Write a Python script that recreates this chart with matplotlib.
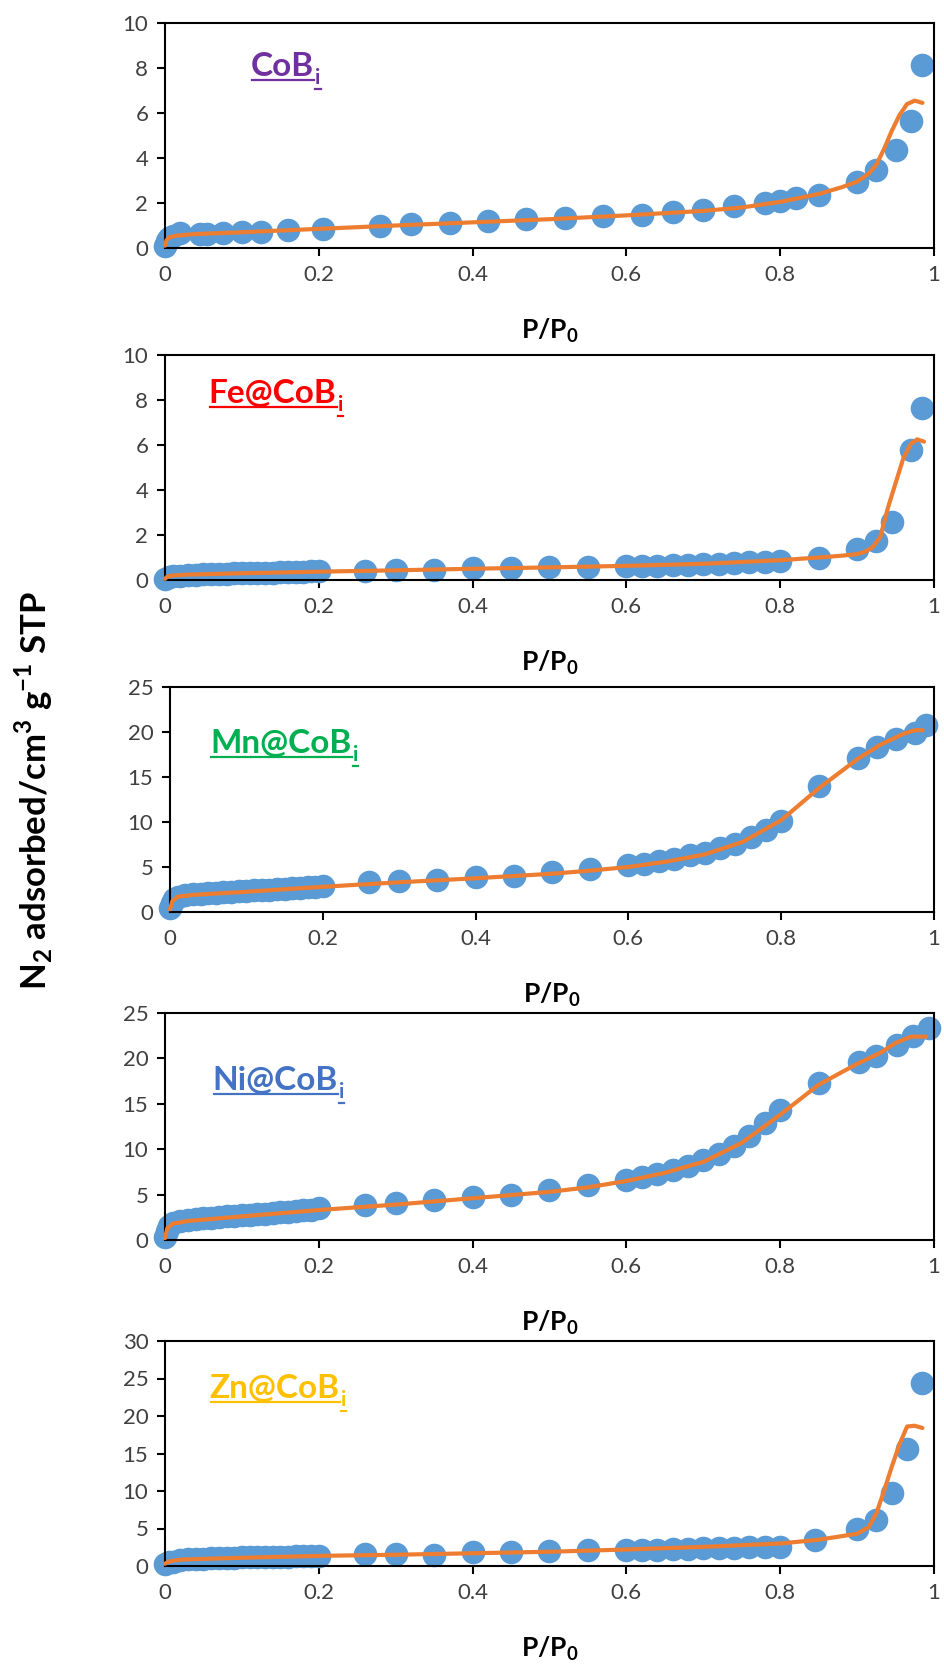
import matplotlib
matplotlib.use("Agg")
import matplotlib.pyplot as plt
from matplotlib.lines import Line2D

plt.rcParams["font.family"] = ["Lato", "DejaVu Sans"]
plt.rcParams["mathtext.fontset"] = "custom"
plt.rcParams["mathtext.rm"] = "Lato"
plt.rcParams["mathtext.bf"] = "Lato:bold"

# --- CoBi ---
cob_x = [0.0, 0.002, 0.005, 0.01, 0.02, 0.045, 0.055, 0.075, 0.1, 0.125, 0.16, 0.205, 0.28, 0.32,
         0.37, 0.42, 0.47, 0.52, 0.57, 0.62, 0.66, 0.70, 0.74, 0.78, 0.80, 0.82, 0.85, 0.90,
         0.925, 0.95, 0.97, 0.985]
cob_y = [0.1, 0.3, 0.45, 0.55, 0.65, 0.62, 0.62, 0.65, 0.72, 0.72, 0.78, 0.84, 0.98, 1.06,
         1.12, 1.2, 1.27, 1.34, 1.42, 1.48, 1.6, 1.67, 1.85, 2.0, 2.1, 2.2, 2.37, 2.95,
         3.45, 4.35, 5.65, 8.15]
cob_fit_x = [0.0, 0.002, 0.006, 0.015, 0.04, 0.1, 0.2, 0.3, 0.4, 0.5, 0.6, 0.7, 0.75, 0.8, 0.85,
             0.88, 0.9, 0.915, 0.925, 0.935, 0.945, 0.955, 0.965, 0.975, 0.985]
cob_fit_y = [0.1, 0.35, 0.48, 0.55, 0.62, 0.7, 0.85, 1.0, 1.14, 1.28, 1.45, 1.65, 1.8, 2.05, 2.4,
             2.7, 2.95, 3.3, 3.7, 4.4, 5.2, 5.9, 6.4, 6.55, 6.45]

# --- Fe@CoBi ---
fe_x = [0.0, 0.005, 0.01, 0.02, 0.03, 0.04, 0.05, 0.06, 0.07, 0.08, 0.09, 0.1, 0.11, 0.12, 0.13,
        0.14, 0.15, 0.16, 0.17, 0.18, 0.19, 0.2, 0.26, 0.3, 0.35, 0.4, 0.45, 0.5, 0.55, 0.6, 0.62,
        0.64, 0.66, 0.68, 0.7, 0.72, 0.74, 0.76, 0.78, 0.8, 0.85, 0.9, 0.925, 0.945, 0.97, 0.985]
fe_y = [0.05, 0.12, 0.17, 0.2, 0.22, 0.24, 0.25, 0.26, 0.27, 0.28, 0.29, 0.3, 0.31, 0.32, 0.32,
        0.33, 0.34, 0.35, 0.36, 0.37, 0.38, 0.39, 0.38, 0.45, 0.45, 0.52, 0.55, 0.58, 0.56, 0.62, 0.63,
        0.64, 0.67, 0.68, 0.7, 0.72, 0.74, 0.78, 0.8, 0.83, 0.98, 1.38, 1.75, 2.6, 5.8, 7.65]
fe_fit_x = [0.0, 0.003, 0.01, 0.03, 0.1, 0.2, 0.3, 0.4, 0.5, 0.6, 0.7, 0.8, 0.85, 0.88, 0.9, 0.91,
            0.92, 0.93, 0.94, 0.95, 0.96, 0.97, 0.978, 0.987]
fe_fit_y = [0.05, 0.15, 0.2, 0.24, 0.3, 0.37, 0.43, 0.5, 0.56, 0.63, 0.72, 0.88, 1.0, 1.08, 1.15, 1.25,
            1.45, 1.9, 3.2, 4.3, 5.4, 6.05, 6.25, 6.15]

# --- Mn@CoBi ---
mn_x = [0.0, 0.002, 0.005, 0.01, 0.02, 0.03, 0.04, 0.05, 0.06, 0.07, 0.08, 0.09, 0.1, 0.11, 0.12,
        0.13, 0.14, 0.15, 0.16, 0.17, 0.18, 0.19, 0.2, 0.26, 0.3, 0.35, 0.4, 0.45, 0.5, 0.55, 0.6,
        0.62, 0.64, 0.66, 0.68, 0.7, 0.72, 0.74, 0.76, 0.78, 0.8, 0.85, 0.9, 0.925, 0.95, 0.975, 0.99]
mn_y = [0.5, 1.0, 1.4, 1.7, 1.9, 2.0, 2.05, 2.1, 2.15, 2.2, 2.25, 2.3, 2.35, 2.4, 2.45,
        2.5, 2.55, 2.6, 2.65, 2.7, 2.75, 2.8, 2.85, 3.3, 3.45, 3.55, 3.9, 4.05, 4.4, 4.75, 5.2,
        5.35, 5.7, 5.9, 6.3, 6.6, 7.1, 7.6, 8.3, 9.1, 10.1, 14.0, 17.1, 18.3, 19.2, 19.9, 20.8]
mn_fit_x = [0.0, 0.003, 0.01, 0.03, 0.1, 0.2, 0.3, 0.4, 0.5, 0.55, 0.6, 0.65, 0.7, 0.75, 0.8,
            0.85, 0.9, 0.93, 0.96, 0.975, 0.985]
mn_fit_y = [0.3, 1.2, 1.7, 1.9, 2.25, 2.8, 3.3, 3.75, 4.25, 4.6, 5.0, 5.6, 6.4, 7.8, 10.2,
            13.8, 17.0, 18.6, 19.8, 20.2, 20.2]

# --- Ni@CoBi ---
ni_x = [0.0, 0.002, 0.005, 0.01, 0.02, 0.03, 0.04, 0.05, 0.06, 0.07, 0.08, 0.09, 0.1, 0.11, 0.12,
        0.13, 0.14, 0.15, 0.16, 0.17, 0.18, 0.19, 0.2, 0.26, 0.3, 0.35, 0.4, 0.45, 0.5, 0.55, 0.6,
        0.62, 0.64, 0.66, 0.68, 0.7, 0.72, 0.74, 0.76, 0.78, 0.8, 0.85, 0.903, 0.924, 0.952, 0.973, 0.993]
ni_y = [0.3, 1.0, 1.5, 1.9, 2.1, 2.2, 2.3, 2.4, 2.45, 2.5, 2.6, 2.65, 2.7, 2.8, 2.85,
        2.9, 3.0, 3.05, 3.1, 3.2, 3.3, 3.35, 3.5, 3.8, 4.1, 4.4, 4.7, 5.0, 5.5, 6.1, 6.6,
        6.9, 7.3, 7.7, 8.2, 8.8, 9.5, 10.4, 11.5, 12.9, 14.3, 17.3, 19.6, 20.3, 21.5, 22.5, 23.3]
ni_fit_x = [0.0, 0.003, 0.01, 0.03, 0.1, 0.2, 0.3, 0.4, 0.5, 0.55, 0.6, 0.65, 0.7, 0.75, 0.8,
            0.85, 0.9, 0.93, 0.95, 0.97, 0.99]
ni_fit_y = [0.2, 1.3, 1.8, 2.1, 2.6, 3.3, 3.9, 4.6, 5.3, 5.8, 6.5, 7.4, 8.6, 10.7, 13.8,
            17.1, 19.4, 20.6, 21.7, 22.4, 22.4]

# --- Zn@CoBi ---
zn_x = [0.0, 0.005, 0.01, 0.02, 0.03, 0.04, 0.05, 0.06, 0.07, 0.08, 0.09, 0.1, 0.11, 0.12, 0.13,
        0.14, 0.15, 0.16, 0.17, 0.18, 0.19, 0.2, 0.26, 0.3, 0.35, 0.4, 0.45, 0.5, 0.55, 0.6, 0.62,
        0.64, 0.66, 0.68, 0.7, 0.72, 0.74, 0.76, 0.78, 0.8, 0.845, 0.9, 0.925, 0.945, 0.965, 0.985]
zn_y = [0.3, 0.5, 0.6, 0.8, 0.9, 1.0, 1.0, 1.05, 1.05, 1.1, 1.1, 1.15, 1.15, 1.2, 1.2,
        1.2, 1.25, 1.25, 1.3, 1.3, 1.3, 1.35, 1.65, 1.55, 1.5, 1.85, 1.85, 2.0, 2.2, 2.1, 2.15,
        2.2, 2.25, 2.3, 2.35, 2.4, 2.45, 2.5, 2.55, 2.6, 3.5, 5.0, 6.1, 9.7, 15.6, 24.4]
zn_fit_x = [0.0, 0.005, 0.02, 0.1, 0.2, 0.3, 0.4, 0.5, 0.6, 0.7, 0.8, 0.85, 0.9, 0.915, 0.925,
            0.935, 0.945, 0.955, 0.965, 0.975, 0.985]
zn_fit_y = [0.3, 0.6, 0.85, 1.1, 1.35, 1.5, 1.7, 1.9, 2.2, 2.55, 3.0, 3.5, 4.3, 5.2, 7.0,
            10.0, 13.2, 16.2, 18.6, 18.7, 18.4]

names = ["CoB", "Fe@CoB", "Mn@CoB", "Ni@CoB", "Zn@CoB"]
name_colors = ["#7030A0", "#FF0000", "#00B050", "#4472C4", "#FFC000"]
y_max = [10, 10, 25, 25, 30]
y_step = [2, 2, 5, 5, 5]
x_ticks = [0, 0.2, 0.4, 0.6, 0.8, 1]
x_tick_labels = ["0", "0.2", "0.4", "0.6", "0.8", "1"]

series = [(cob_x, cob_y, cob_fit_x, cob_fit_y),
          (fe_x, fe_y, fe_fit_x, fe_fit_y),
          (mn_x, mn_y, mn_fit_x, mn_fit_y),
          (ni_x, ni_y, ni_fit_x, ni_fit_y),
          (zn_x, zn_y, zn_fit_x, zn_fit_y)]

W, H = 945, 1668
fig = plt.figure(figsize=(W / 100, H / 100), dpi=100)

# axes boxes in pixels: left, top, bottom
boxes = [(165, 23, 248), (165, 355, 580), (170, 687, 912), (165, 1013, 1240), (165, 1341, 1566)]
right_px = 934
# label anchor (axes fraction, baseline)
label_pos = [(0.112, 0.764), (0.057, 0.787), (0.053, 0.707), (0.062, 0.66), (0.058, 0.747)]

axes = []
for i, (xs, ys, fx, fy) in enumerate(series):
    l, t, b = boxes[i]
    ax = fig.add_axes([l / W, 1 - b / H, (right_px - l) / W, (b - t) / H])
    ax.plot(xs, ys, "o", ms=17, color="#5B9BD5", mec="none", clip_on=False, zorder=2)
    ax.plot(fx, fy, "-", lw=3, color="#ED7D31", clip_on=False, zorder=3, solid_capstyle="round")
    ax.set_xlim(0, 1)
    ax.set_ylim(0, y_max[i])
    ax.set_xticks(x_ticks)
    ax.set_xticklabels(x_tick_labels)
    ax.set_yticks(range(0, y_max[i] + 1, y_step[i]))
    ax.tick_params(direction="out", length=6, width=1.5, labelsize=16, colors="black",
                   labelcolor="#404040", pad=6)
    for s in ax.spines.values():
        s.set_linewidth(1.5)
        s.set_color("black")
    # x label, about 83 px under the axis
    fig.text(0.5 * (l + right_px) / W, 1 - (b + 83) / H, r"P/P$_\mathbf{0}$", fontsize=19,
             fontweight="bold", ha="center", va="center")
    axes.append(ax)

fig.text(0.036, 0.526, r"N$_\mathbf{2}$ adsorbed/cm$^\mathbf{3}$ g$^\mathbf{-1}$ STP", rotation=90,
         fontsize=25, fontweight="bold", ha="center", va="center")

# sample names with subscript i, underlined like the original
fig.canvas.draw()
r = fig.canvas.get_renderer()
inv = fig.transFigure.inverted()
for i, ax in enumerate(axes):
    x, y = label_pos[i]
    c = name_colors[i]
    t = ax.text(x, y, names[i], transform=ax.transAxes, fontsize=24, fontweight="bold",
                color=c, va="baseline")
    fig.canvas.draw()
    bb = t.get_window_extent(r)
    base = ax.transAxes.transform((x, y))[1]
    sx, sy = inv.transform((bb.x1 + 1, base - 8))
    s = fig.text(sx, sy, "i", fontsize=15, fontweight="bold", color=c, va="baseline")
    fig.canvas.draw()
    sb = s.get_window_extent(r)
    for x0, x1, yy in [(bb.x0 + 1, bb.x1, base - 4), (sb.x0, sb.x1, base - 13)]:
        (fx0, fy0), (fx1, _) = inv.transform([(x0, yy), (x1, yy)])
        fig.add_artist(Line2D([fx0, fx1], [fy0, fy0], color=c, lw=1.6))

fig.savefig("out.png", dpi=100)
